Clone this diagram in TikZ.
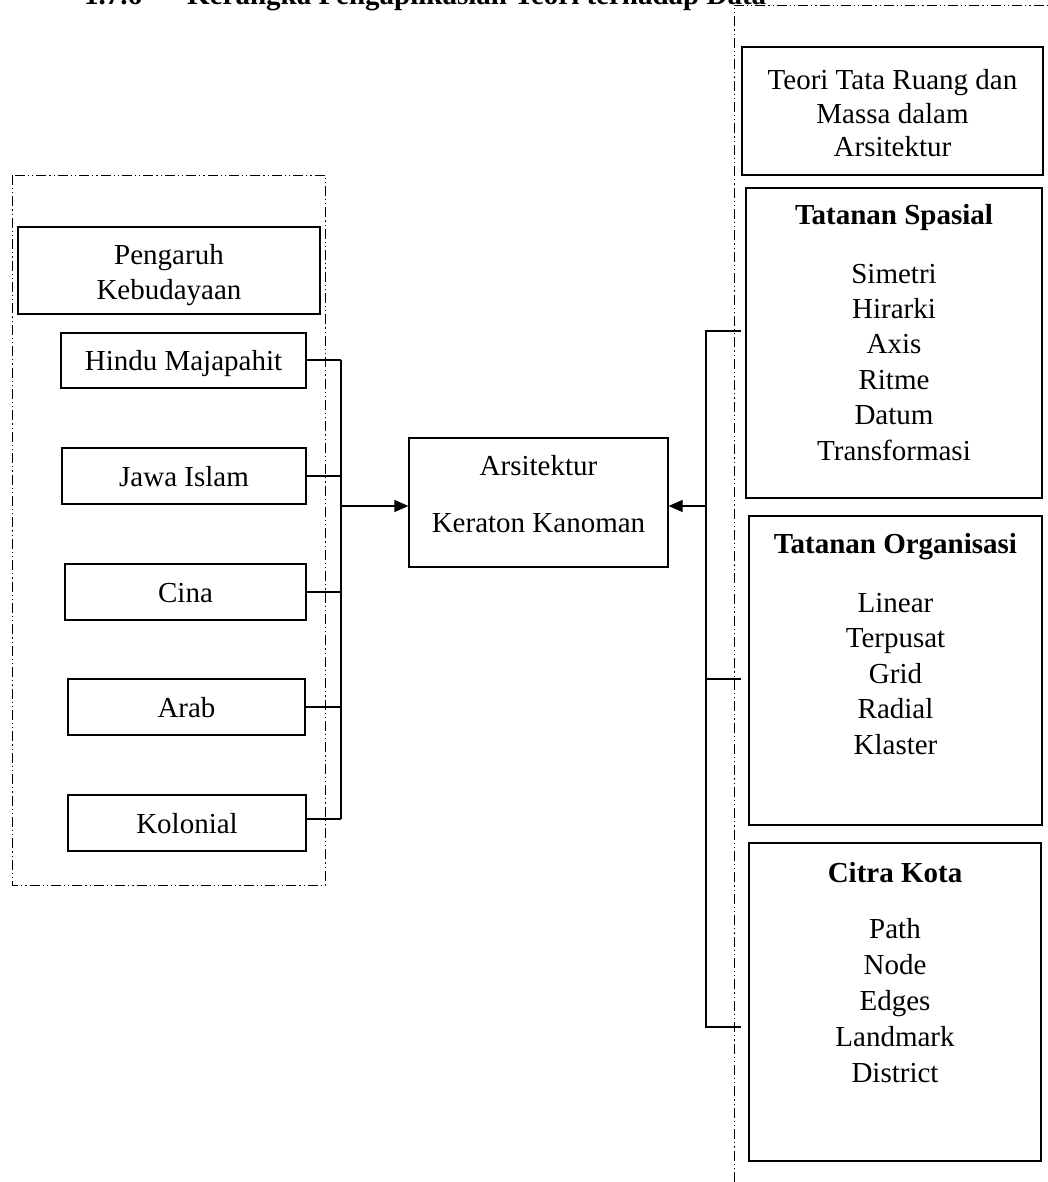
\documentclass[tikz,border=0pt]{standalone}
\usepackage{fontspec}
\setmainfont{Liberation Serif}
\usetikzlibrary{arrows.meta}
\begin{document}
\begin{tikzpicture}[x=1pt,y=-1pt,
  box/.style={draw=black, line width=1.2pt, inner sep=0pt, rectangle},
  txt/.style={font=\fontsize{29}{35}\selectfont, inner sep=0pt, anchor=base},
  btxt/.style={txt, font=\fontsize{29}{35}\selectfont\bfseries},
  conn/.style={draw=black, line width=1.2pt},
  arr/.style={conn, -{Triangle[length=14pt,width=12pt]}},
  frame/.style={draw=black, line width=0.9pt, dash pattern=on 10pt off 3pt on 1.2pt off 3pt on 1.2pt off 3pt}]
\path[use as bounding box, clip] (0,0) rectangle (1048,1182);
\fill[white] (0,0) rectangle (1048,1182);

% title (cut at top)
\node[btxt, anchor=base west] (num) at (84,5) {1.7.6};
\node[btxt, anchor=base west] (title) at (187,5) {Kerangka Pengaplikasian Teori terhadap Data};

% frames
\draw[frame] (12,175) rectangle (325,885);
\draw[frame] (734,1182) -- (734,5) -- (1048,5);

% left boxes
\node[box, minimum width=302pt, minimum height=87pt] (pengaruh) at (169,270.5) {};
\node[txt] (p1) at (169,265) {Pengaruh};
\node[txt] (p2) at (169,299) {Kebudayaan};

\node[box, minimum width=245pt, minimum height=55pt] (hindu) at (183.5,360.5) {};
\node[txt] (thindu) at (183.5,370) {Hindu Majapahit};
\node[box, minimum width=244pt, minimum height=56pt] (jawa) at (184,476) {};
\node[txt] (tjawa) at (184,486) {Jawa Islam};
\node[box, minimum width=241pt, minimum height=56pt] (cina) at (185.5,592) {};
\node[txt] (tcina) at (185.5,602) {Cina};
\node[box, minimum width=237pt, minimum height=56pt] (arab) at (186.5,707) {};
\node[txt] (tarab) at (186.5,717) {Arab};
\node[box, minimum width=238pt, minimum height=56pt] (kolonial) at (187,823) {};
\node[txt] (tkolonial) at (187,833) {Kolonial};

% center box
\node[box, minimum width=259pt, minimum height=129pt] (center) at (538.5,502.5) {};
\node[txt] (c1) at (538.5,475) {Arsitektur};
\node[txt] (c2) at (538.5,532) {Keraton Kanoman};

% right boxes
\node[box, minimum width=301pt, minimum height=128pt] (teori) at (892.5,111) {};
\node[txt] (t1) at (892.5,90) {Teori Tata Ruang dan};
\node[txt] (t2) at (892.5,123.5) {Massa dalam};
\node[txt] (t3) at (892.5,157) {Arsitektur};

\node[box, minimum width=296pt, minimum height=310pt] (spasial) at (894,343) {};
\node[btxt] (sh) at (894,225) {Tatanan Spasial};
\foreach \t [count=\i from 0] in {Simetri,Hirarki,Axis,Ritme,Datum,Transformasi}
  \node[txt] (s\i) at (894,283+35.4*\i) {\t};

\node[box, minimum width=293pt, minimum height=309pt] (organisasi) at (895.5,670.5) {};
\node[btxt] (oh) at (895.5,553) {Tatanan Organisasi};
\foreach \t [count=\i from 0] in {Linear,Terpusat,Grid,Radial,Klaster}
  \node[txt] (o\i) at (895.5,612+35.5*\i) {\t};

\node[box, minimum width=292pt, minimum height=318pt] (citra) at (895,1002) {};
\node[btxt] (ch) at (895,882) {Citra Kota};
\foreach \t [count=\i from 0] in {Path,Node,Edges,Landmark,District}
  \node[txt] (k\i) at (895,938+36.2*\i) {\t};

% left bus
\coordinate (lbt) at (341,360);
\coordinate (lbb) at (341,819);
\coordinate (la) at (341,506);
\draw[conn] (lbt) -- (lbb);
\draw[conn] (hindu.east |- lbt) -- (lbt);
\draw[conn] (jawa.east) -- (jawa.east -| lbt);
\draw[conn] (cina.east) -- (cina.east -| lbt);
\draw[conn] (arab.east) -- (arab.east -| lbt);
\draw[conn] (kolonial.east |- lbb) -- (lbb);
\draw[arr] (la) -- (la -| center.west);

% right bus
\coordinate (rbt) at (706,331);
\coordinate (rbm) at (706,679);
\coordinate (rbb) at (706,1027);
\coordinate (ra) at (706,506);
\coordinate (rt1) at (741,331);
\coordinate (rt2) at (741,679);
\coordinate (rt3) at (741,1027);
\draw[conn] (rt1) -- (rbt) -- (rbb) -- (rt3);
\draw[conn] (rbm) -- (rt2);
\draw[arr] (ra) -- (ra -| center.east);
\end{tikzpicture}
\end{document}
